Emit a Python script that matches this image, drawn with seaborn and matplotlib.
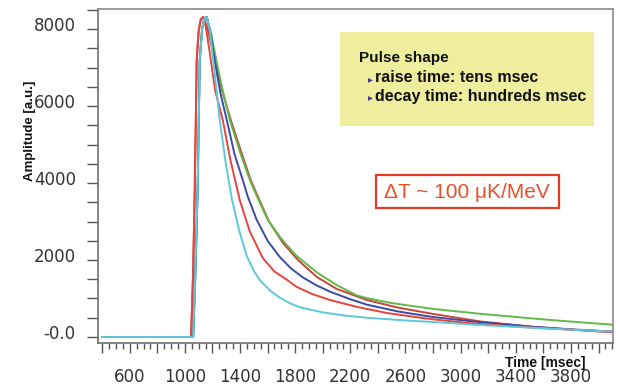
import numpy as np
import pandas as pd
import seaborn as sns
import matplotlib
matplotlib.use("Agg")
import matplotlib.pyplot as plt
from matplotlib.ticker import MultipleLocator, FuncFormatter
from matplotlib.transforms import ScaledTranslation
from matplotlib.patches import Rectangle

# ---- data ----
cyan_t = [400, 1060, 1075, 1093, 1108, 1125, 1142, 1159, 1180, 1215, 1253, 1295, 1340, 1395, 1449,
          1500, 1543, 1620, 1689, 1760, 1834, 2000, 2150, 2320, 2600, 2799, 3150, 3525, 3800, 4100]
cyan_a = [0, 0, 1500, 3900, 7200, 8000, 8280, 8310, 8000, 6900, 5636, 4550, 3600, 2750, 2100,
          1720, 1480, 1200, 1020, 880, 770, 640, 560, 500, 430, 390, 310, 240, 190, 140]

red1_t = [400, 1045, 1060, 1072, 1086, 1100, 1115, 1130, 1150, 1180, 1220, 1275, 1330, 1398, 1470,
          1565, 1650, 1739, 1812, 1920, 2051, 2250, 2465, 2750, 3046, 3400, 3800, 4100]
red1_a = [0, 0, 1700, 3900, 7200, 7950, 8250, 8310, 8100, 7400, 6400, 5636, 4600, 3558, 2750,
          2050, 1700, 1490, 1300, 1120, 962, 780, 623, 480, 364, 270, 190, 140]

blue_t = [400, 1060, 1075, 1093, 1108, 1125, 1142, 1159, 1185, 1220, 1260, 1304, 1360, 1420, 1456,
          1520, 1600, 1689, 1770, 1855, 1950, 2051, 2200, 2320, 2550, 2799, 3100, 3525, 3800, 4100]
blue_a = [0, 0, 1500, 3900, 7200, 8000, 8280, 8310, 7900, 7100, 6300, 5636, 4750, 4077, 3650,
          3050, 2500, 2075, 1780, 1550, 1350, 1180, 980, 840, 660, 519, 400, 265, 200, 140]

green_t = [400, 1060, 1075, 1093, 1108, 1125, 1142, 1159, 1190, 1230, 1275, 1326, 1400, 1471, 1529,
           1600, 1700, 1812, 1957, 2100, 2247, 2320, 2500, 2799, 3150, 3525, 3800, 4100]
green_a = [0, 0, 1500, 3900, 7200, 8000, 8280, 8310, 7900, 7150, 6400, 5636, 4800, 4077, 3600,
           3050, 2550, 2100, 1680, 1350, 1080, 1010, 880, 730, 600, 480, 400, 320]

red2_t = [400, 1045, 1060, 1072, 1086, 1100, 1115, 1135, 1165, 1210, 1270, 1333, 1400, 1475, 1535,
          1610, 1710, 1820, 1957, 2100, 2320, 2550, 2799, 3150, 3525, 3800, 4100]
red2_a = [0, 0, 1700, 3900, 7200, 7950, 8250, 8310, 8000, 7300, 6400, 5636, 4900, 4100, 3600,
          3000, 2450, 2000, 1560, 1250, 960, 760, 600, 400, 265, 190, 120]

series_names = ["red2", "green", "blue", "red1", "cyan"]
series_colors = {"red2": "#c8453c", "green": "#62b94a", "blue": "#3c4aa6",
                 "red1": "#e8433e", "cyan": "#5cc9da"}

y_tick_values = [0, 2000, 4000, 6000, 8000]
y_tick_labels = ["-0.0", "2000", "4000", "6000", "8000"]
x_label_values = [600, 1000, 1400, 1800, 2200, 2600, 3000, 3400, 3800]

info_title = "Pulse shape"
info_lines = ["raise time: tens msec", "decay time: hundreds msec"]
delta_text = "\u0394T ~ 100 \u03bcK/MeV"

# ---- build table ----
times = {"cyan": cyan_t, "red1": red1_t, "blue": blue_t, "green": green_t, "red2": red2_t}
amps = {"cyan": cyan_a, "red1": red1_a, "blue": blue_a, "green": green_a, "red2": red2_a}
rows = []
for name in series_names:
    for t, a in zip(times[name], amps[name]):
        rows.append({"Time": t, "Amplitude": a, "series": name})
df = pd.DataFrame(rows)

sns.set_theme(style="white")
plt.rcParams["font.family"] = ["DejaVu Sans"]

W, H = 620, 386
fig = plt.figure(figsize=(W / 100, H / 100), dpi=100)
ax = fig.add_axes([98 / W, 1 - 343 / H, (613 - 98) / W, (343 - 9) / H])

sns.lineplot(data=df, x="Time", y="Amplitude", hue="series", hue_order=series_names,
             palette=series_colors, estimator=None, sort=False, legend=False,
             linewidth=1.4, ax=ax)

ax.set_xlim(370, 4105)
ax.set_ylim(-156, 8520)
ax.set_xlabel("")
ax.set_ylabel("")

for s in ax.spines.values():
    s.set_color("#6e6e6e")
    s.set_linewidth(1.2)
    s.set_visible(True)
ax.spines["top"].set_color("#8a8a8a")
ax.spines["right"].set_color("#8a8a8a")

ax.xaxis.set_major_locator(MultipleLocator(200))
ax.xaxis.set_minor_locator(MultipleLocator(50))
ax.xaxis.set_major_formatter(FuncFormatter(
    lambda v, p: f"{int(round(v))}" if int(round(v)) in x_label_values else ""))
ax.set_yticks(y_tick_values)
ax.set_yticklabels(y_tick_labels)
ax.yaxis.set_minor_locator(MultipleLocator(500))

ax.tick_params(axis="x", which="major", direction="out", length=7, width=1.0,
               color="#555555", labelsize=12, labelcolor="#333333", pad=11, bottom=True)
ax.tick_params(axis="x", which="minor", direction="out", length=4.5, width=1.0,
               color="#555555", bottom=True)
ax.tick_params(axis="y", which="major", direction="out", length=8, width=1.0,
               color="#555555", labelsize=12, labelcolor="#333333", pad=8, left=True)
ax.tick_params(axis="y", which="minor", direction="out", length=8, width=1.0,
               color="#555555", left=True)

# y tick labels sit a bit above their ticks in the reference
offset = ScaledTranslation(0, 5 / 100, fig.dpi_scale_trans)
for lab in ax.get_yticklabels():
    lab.set_transform(lab.get_transform() + offset)


def fx(px):
    return px / W


def fy(py):
    return 1 - py / H


# axis titles
fig.text(fx(30), fy(131), "Amplitude [a.u.]", rotation=90, ha="center", va="center",
         fontsize=9.5, fontweight="bold", family=["Liberation Sans", "DejaVu Sans"], color="#111111")
fig.text(fx(545), fy(363), "Time [msec]", ha="center", va="center",
         fontsize=10, fontweight="bold", family=["Liberation Sans", "DejaVu Sans"], color="#111111")

# yellow info box
fig.patches.append(Rectangle((fx(340), fy(126)), (594 - 340) / W, (126 - 32) / H,
                             transform=fig.transFigure, facecolor="#eeee9e",
                             edgecolor="none", zorder=5))
fig.text(fx(359), fy(58), info_title, ha="left", va="center", fontsize=11,
         fontweight="bold", family=["Liberation Sans", "DejaVu Sans"], color="#111111", zorder=6)
for i, line in enumerate(info_lines):
    yy = 78 + i * 18
    fig.text(fx(368), fy(yy + 1), "\u25b8", ha="left", va="center", fontsize=7,
             family=["DejaVu Sans"], color="#4a3c8c", zorder=6)
    fig.text(fx(375), fy(yy), line, ha="left", va="center", fontsize=11.5,
             fontweight="bold", family=["Liberation Sans", "DejaVu Sans"], color="#111111", zorder=6)

# red delta T box
fig.patches.append(Rectangle((fx(376), fy(208)), (559 - 376) / W, (208 - 175) / H,
                             transform=fig.transFigure, facecolor="white",
                             edgecolor="#e23a26", linewidth=1.6, zorder=5))
fig.text(fx(467), fy(192), delta_text, ha="center", va="center", fontsize=15,
         family=["Liberation Sans", "DejaVu Sans"], color="#e8502c", zorder=6)

fig.savefig("out.png", dpi=100)
